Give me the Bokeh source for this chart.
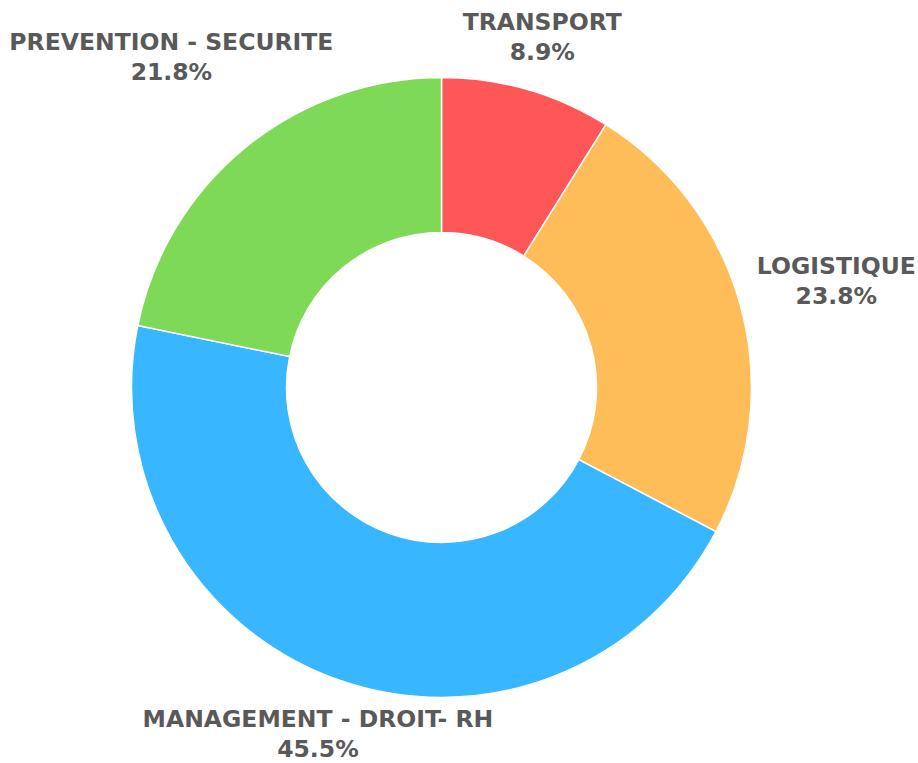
import math
from bokeh.plotting import figure
from bokeh.models import Range1d, ColumnDataSource
from bokeh.core.properties import value
from bokeh.embed import file_html
from bokeh.resources import INLINE

# ---- data ----
categories = ["TRANSPORT", "LOGISTIQUE", "MANAGEMENT - DROIT- RH", "PREVENTION - SECURITE"]
shares = [8.9, 23.8, 45.5, 21.8]
colors = ["#FF5757", "#FFBD59", "#38B6FF", "#7ED957"]

# ---- layout ----
W, H = 918, 763
cx, cy = 441, 376
R_OUT, R_IN = 310, 155
label_dist = [365, 409, 368, 427]
TEXT_COLOR = "#595959"
FONT = "DejaVu Sans"

total = sum(shares)
starts, ends, mids = [], [], []
acc = 0.0
for s in shares:
    a0 = acc / total
    acc += s
    a1 = acc / total
    starts.append(math.pi / 2 - a0 * 2 * math.pi)
    ends.append(math.pi / 2 - a1 * 2 * math.pi)
    mids.append(math.pi / 2 - (a0 + a1) / 2 * 2 * math.pi)

src = ColumnDataSource(dict(
    x=[cx] * len(shares), y=[cy] * len(shares),
    start=starts, end=ends, color=colors,
))

p = figure(width=W, height=H, x_range=Range1d(0, W), y_range=Range1d(0, H),
           output_backend="svg", toolbar_location=None, min_border=0,
           background_fill_color="white", border_fill_color="white")
p.axis.visible = False
p.grid.visible = False
p.outline_line_color = None

p.annular_wedge(x="x", y="y", inner_radius=R_IN, outer_radius=R_OUT,
                start_angle="start", end_angle="end", direction="clock",
                fill_color="color", line_color="white", line_width=1.5, source=src)

lx = [cx + d * math.cos(m) for d, m in zip(label_dist, mids)]
ly = [cy + d * math.sin(m) for d, m in zip(label_dist, mids)]
pct = [f"{s:.1f}%" for s in shares]

lab = ColumnDataSource(dict(
    x=lx, y1=[y + 15 for y in ly], y2=[y - 15 for y in ly],
    name=categories, pct=pct,
))
common = dict(text_align="center", text_baseline="middle", text_color=TEXT_COLOR,
              text_font=value(FONT), text_font_style="bold", text_font_size="23.5px",
              source=lab)
p.text(x="x", y="y1", text="name", **common)
p.text(x="x", y="y2", text="pct", **common)

open("out.html", "w").write(file_html(p, INLINE))
